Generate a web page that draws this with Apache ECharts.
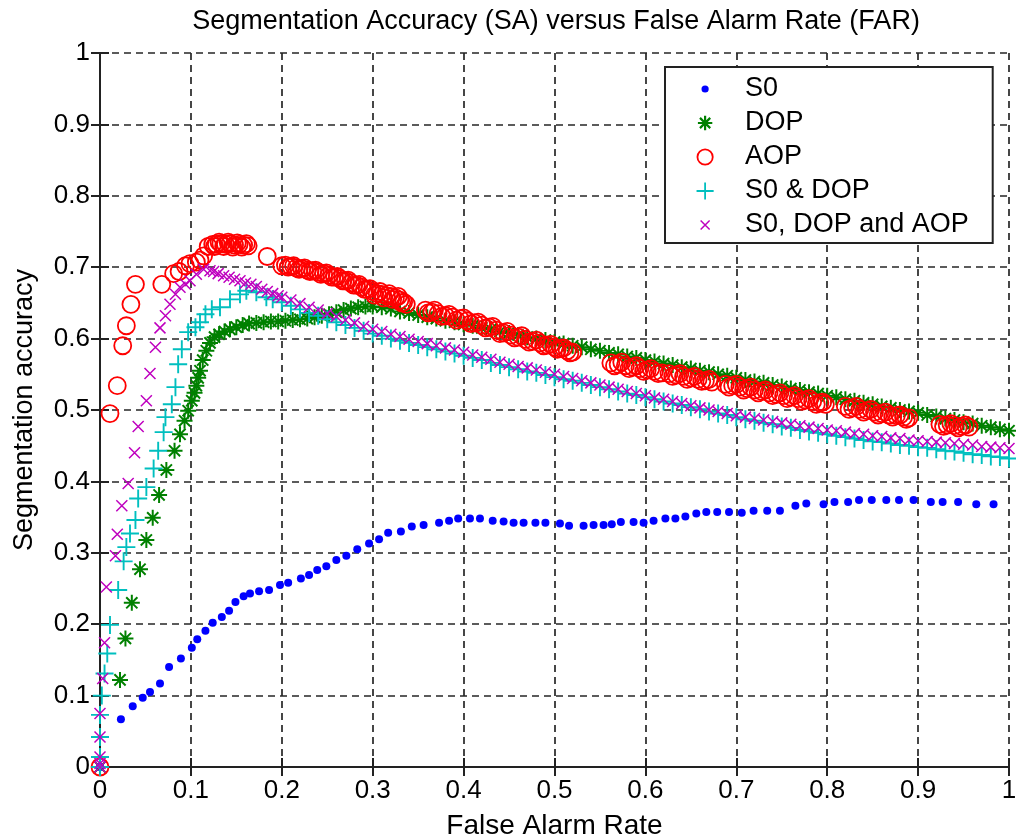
<!DOCTYPE html>
<html>
<head>
<meta charset="utf-8">
<title>Segmentation Accuracy versus False Alarm Rate</title>
<script src="https://cdn.jsdelivr.net/npm/echarts@6/dist/echarts.min.js"></script>
<style>
  html, body { margin: 0; padding: 0; background: #ffffff; }
  #chart { width: 1016px; height: 840px; }
</style>
</head>
<body>
<div id="chart"></div>
<script>
// [false alarm rate, segmentation accuracy] pairs for each feature set
const s0Points = [
  [0,0],[0.023,0.067],[0.036,0.085],[0.047,0.097],[0.055,0.105],[0.066,0.117],[0.076,0.140],[0.089,0.152],
  [0.101,0.167],[0.107,0.179],[0.116,0.191],[0.124,0.202],[0.134,0.210],[0.142,0.219],[0.149,0.231],
  [0.158,0.239],[0.165,0.243],[0.175,0.246],[0.186,0.248],[0.198,0.255],[0.207,0.258],[0.221,0.264],
  [0.230,0.269],[0.239,0.276],[0.249,0.281],[0.260,0.290],[0.271,0.296],[0.283,0.305],[0.296,0.313],
  [0.307,0.319],[0.317,0.328],[0.331,0.330],[0.343,0.337],[0.356,0.339],[0.373,0.342],[0.384,0.345],
  [0.394,0.348],[0.407,0.348],[0.418,0.348],[0.432,0.345],[0.444,0.344],[0.455,0.342],[0.466,0.342],
  [0.479,0.342],[0.490,0.342],[0.506,0.341],[0.516,0.338],[0.532,0.338],[0.543,0.339],[0.554,0.339],
  [0.563,0.340],[0.573,0.343],[0.587,0.343],[0.598,0.342],[0.609,0.345],[0.622,0.348],[0.633,0.348],
  [0.644,0.351],[0.656,0.355],[0.667,0.357],[0.679,0.357],[0.692,0.357],[0.706,0.356],[0.719,0.359],
  [0.734,0.359],[0.748,0.359],[0.765,0.366],[0.777,0.369],[0.796,0.368],[0.808,0.371],[0.823,0.371],
  [0.835,0.374],[0.849,0.374],[0.865,0.374],[0.879,0.374],[0.895,0.374],[0.914,0.371],[0.927,0.371],
  [0.944,0.371],[0.964,0.368],[0.983,0.368]
];

const dopPoints = [
  [0,0],[0.022,0.122],[0.028,0.180],[0.035,0.230],[0.044,0.277],[0.051,0.318],[0.058,0.349],[0.065,0.381],
  [0.073,0.416],[0.082,0.443],[0.088,0.466],[0.093,0.485],[0.097,0.499],[0.101,0.513],[0.104,0.524],
  [0.106,0.534],[0.108,0.545],[0.110,0.555],[0.113,0.570],[0.117,0.583],[0.121,0.594],[0.126,0.602],
  [0.131,0.606],[0.137,0.610],[0.143,0.613],[0.150,0.616],[0.157,0.619],[0.164,0.621],[0.172,0.622],
  [0.180,0.623],[0.188,0.624],[0.196,0.624],[0.204,0.625],[0.212,0.626],[0.220,0.627],[0.228,0.628],
  [0.236,0.630],[0.244,0.632],[0.252,0.634],[0.260,0.637],[0.268,0.640],[0.276,0.642],[0.284,0.644],
  [0.292,0.645],[0.300,0.645],[0.310,0.644],[0.320,0.642],[0.330,0.638],[0.340,0.636],[0.350,0.633],
  [0.360,0.630],[0.370,0.628],[0.380,0.625],[0.390,0.623],[0.400,0.620],[0.410,0.618],[0.420,0.615],
  [0.430,0.613],[0.440,0.610],[0.450,0.608],[0.460,0.605],[0.470,0.602],[0.480,0.600],[0.490,0.598],
  [0.500,0.595],[0.510,0.593],[0.520,0.590],[0.530,0.588],[0.540,0.585],[0.550,0.583],[0.560,0.580],
  [0.570,0.578],[0.580,0.575],[0.590,0.573],[0.600,0.570],[0.610,0.568],[0.620,0.565],[0.630,0.563],
  [0.640,0.560],[0.650,0.558],[0.660,0.555],[0.670,0.553],[0.680,0.550],[0.690,0.548],[0.700,0.545],
  [0.710,0.542],[0.720,0.540],[0.730,0.538],[0.740,0.535],[0.750,0.533],[0.760,0.530],[0.770,0.528],
  [0.780,0.525],[0.790,0.523],[0.800,0.520],[0.810,0.518],[0.820,0.515],[0.830,0.513],[0.840,0.510],
  [0.850,0.508],[0.860,0.505],[0.870,0.503],[0.880,0.500],[0.890,0.498],[0.900,0.496],[0.910,0.493],
  [0.920,0.491],[0.930,0.488],[0.940,0.486],[0.950,0.483],[0.960,0.481],[0.970,0.478],[0.980,0.476],
  [0.990,0.473],[1.000,0.471]
];

const aopPoints = [
  [0,0],[0.011,0.495],[0.019,0.534],[0.025,0.590],[0.029,0.618],[0.034,0.648],[0.039,0.676],[0.068,0.676],
  [0.081,0.691],[0.087,0.694],[0.094,0.702],[0.099,0.705],[0.106,0.707],[0.110,0.710],[0.114,0.716],
  [0.119,0.729],[0.124,0.732],[0.126,0.729],[0.128,0.732],[0.131,0.735],[0.133,0.733],[0.136,0.729],
  [0.138,0.732],[0.141,0.735],[0.143,0.733],[0.146,0.728],[0.148,0.731],[0.151,0.734],[0.153,0.732],
  [0.156,0.728],[0.158,0.731],[0.161,0.733],[0.163,0.730],[0.184,0.715],[0.200,0.702],
  [0.204,0.703],[0.207,0.700],[0.210,0.701],[0.213,0.702],[0.216,0.699],[0.219,0.697],[0.222,0.698],
  [0.225,0.699],[0.228,0.696],[0.231,0.694],[0.234,0.695],[0.237,0.696],[0.240,0.693],[0.243,0.690],
  [0.246,0.691],[0.249,0.692],[0.252,0.689],[0.255,0.686],[0.258,0.686],[0.261,0.687],[0.264,0.684],
  [0.267,0.681],[0.270,0.681],[0.273,0.682],[0.276,0.678],[0.279,0.675],[0.282,0.675],[0.285,0.676],
  [0.288,0.672],[0.291,0.669],[0.294,0.669],[0.297,0.670],[0.300,0.666],[0.302,0.661],[0.305,0.663],
  [0.308,0.666],[0.310,0.662],[0.312,0.657],[0.315,0.660],[0.318,0.663],[0.320,0.659],[0.322,0.655],
  [0.325,0.657],[0.328,0.659],[0.330,0.654],[0.332,0.650],[0.334,0.651],[0.337,0.648],
  [0.358,0.640],[0.361,0.636],[0.365,0.637],[0.368,0.640],[0.372,0.635],[0.376,0.631],[0.380,0.632],
  [0.384,0.634],[0.388,0.630],[0.392,0.626],[0.396,0.628],[0.400,0.629],[0.404,0.625],[0.408,0.621],
  [0.412,0.622],[0.416,0.623],[0.420,0.619],[0.424,0.615],[0.428,0.616],[0.432,0.617],[0.436,0.612],
  [0.440,0.607],[0.444,0.608],[0.448,0.610],[0.452,0.605],[0.456,0.601],[0.460,0.602],[0.464,0.604],
  [0.468,0.599],[0.472,0.595],[0.476,0.596],[0.480,0.598],[0.484,0.594],[0.488,0.590],[0.492,0.591],
  [0.496,0.592],[0.500,0.588],[0.503,0.585],[0.507,0.586],[0.510,0.587],[0.514,0.583],[0.517,0.580],
  [0.520,0.581],
  [0.562,0.566],[0.566,0.562],[0.570,0.564],[0.574,0.567],[0.578,0.562],[0.582,0.558],[0.586,0.560],
  [0.590,0.562],[0.594,0.558],[0.598,0.554],[0.602,0.556],[0.606,0.558],[0.610,0.554],[0.614,0.551],
  [0.618,0.552],[0.626,0.551],[0.630,0.547],[0.634,0.549],[0.638,0.551],[0.642,0.547],[0.646,0.543],
  [0.650,0.545],[0.654,0.547],[0.658,0.543],[0.662,0.540],[0.666,0.541],[0.670,0.543],[0.673,0.539],
  [0.688,0.536],[0.692,0.532],[0.696,0.534],[0.700,0.536],[0.704,0.532],[0.708,0.528],[0.712,0.530],
  [0.716,0.532],[0.720,0.528],[0.724,0.524],[0.728,0.526],[0.732,0.528],[0.736,0.524],[0.740,0.520],
  [0.744,0.522],[0.748,0.524],[0.752,0.520],[0.756,0.516],[0.760,0.518],[0.764,0.520],[0.768,0.516],
  [0.772,0.512],[0.776,0.514],[0.780,0.516],[0.784,0.512],[0.788,0.508],[0.792,0.510],[0.795,0.511],
  [0.798,0.508],
  [0.820,0.505],[0.824,0.501],[0.828,0.503],[0.832,0.505],[0.836,0.501],[0.840,0.497],[0.844,0.499],
  [0.848,0.501],[0.852,0.497],[0.856,0.493],[0.860,0.495],[0.864,0.497],[0.868,0.493],[0.872,0.490],
  [0.876,0.492],[0.880,0.493],[0.884,0.490],[0.887,0.487],[0.890,0.489],
  [0.924,0.480],[0.928,0.477],[0.932,0.479],[0.936,0.481],[0.940,0.478],[0.944,0.475],[0.948,0.477],
  [0.952,0.479],[0.956,0.476]
];

const s0DopPoints = [
  [0,0],[0,0.014],[0,0.042],[0,0.073],[0.002,0.100],[0.005,0.131],[0.008,0.159],[0.011,0.199],
  [0.020,0.248],[0.026,0.288],[0.029,0.308],[0.033,0.327],[0.039,0.346],[0.042,0.376],[0.051,0.392],
  [0.059,0.418],[0.064,0.443],[0.070,0.469],[0.072,0.490],[0.079,0.508],[0.083,0.532],[0.086,0.564],
  [0.090,0.585],[0.097,0.609],[0.105,0.616],[0.110,0.623],[0.116,0.634],[0.123,0.641],[0.132,0.644],
  [0.143,0.655],[0.154,0.662],[0.161,0.667],[0.172,0.665],[0.183,0.658],[0.190,0.655],[0.200,0.651],
  [0.210,0.646],[0.220,0.641],[0.230,0.636],[0.240,0.632],[0.250,0.627],[0.260,0.623],[0.270,0.619],
  [0.280,0.615],[0.290,0.611],[0.300,0.607],[0.310,0.604],[0.320,0.600],[0.330,0.597],[0.340,0.594],
  [0.350,0.591],[0.360,0.588],[0.370,0.585],[0.380,0.582],[0.390,0.579],[0.400,0.576],[0.410,0.573],
  [0.420,0.570],[0.430,0.566],[0.440,0.563],[0.450,0.560],[0.460,0.557],[0.470,0.554],[0.480,0.552],
  [0.490,0.549],[0.500,0.546],[0.510,0.543],[0.520,0.541],[0.530,0.538],[0.540,0.535],[0.550,0.532],
  [0.560,0.529],[0.570,0.526],[0.580,0.523],[0.590,0.521],[0.600,0.518],[0.610,0.515],[0.620,0.512],
  [0.630,0.509],[0.640,0.507],[0.650,0.504],[0.660,0.501],[0.670,0.498],[0.680,0.495],[0.690,0.493],
  [0.700,0.490],[0.710,0.487],[0.720,0.485],[0.730,0.482],[0.740,0.480],[0.750,0.477],[0.760,0.475],
  [0.770,0.472],[0.780,0.470],[0.790,0.468],[0.800,0.466],[0.810,0.464],[0.820,0.462],[0.830,0.460],
  [0.840,0.458],[0.850,0.456],[0.860,0.455],[0.870,0.453],[0.880,0.451],[0.890,0.450],[0.900,0.448],
  [0.910,0.447],[0.920,0.445],[0.930,0.443],[0.940,0.442],[0.950,0.440],[0.960,0.438],[0.970,0.437],
  [0.980,0.435],[0.990,0.434],[1.000,0.432]
];

const allFeaturePoints = [
  [0,0],[0,0.005],[0,0.014],[0,0.042],[0,0.075],[0.003,0.124],[0.005,0.174],[0.007,0.252],
  [0.017,0.296],[0.019,0.326],[0.024,0.366],[0.031,0.397],[0.038,0.440],[0.042,0.477],[0.051,0.513],
  [0.055,0.551],[0.061,0.588],[0.066,0.615],[0.072,0.632],[0.077,0.648],[0.083,0.662],[0.088,0.672],
  [0.094,0.676],[0.099,0.681],[0.106,0.690],[0.114,0.697],[0.121,0.695],[0.125,0.694],[0.130,0.691],
  [0.136,0.688],[0.142,0.686],[0.148,0.683],[0.154,0.681],[0.160,0.678],[0.166,0.676],[0.172,0.673],
  [0.178,0.669],[0.184,0.666],[0.190,0.663],[0.196,0.660],[0.200,0.658],[0.210,0.654],[0.220,0.649],
  [0.230,0.644],[0.240,0.640],[0.250,0.635],[0.260,0.631],[0.270,0.626],[0.280,0.622],[0.290,0.617],
  [0.300,0.613],[0.310,0.610],[0.320,0.606],[0.330,0.603],[0.340,0.599],[0.350,0.596],[0.360,0.593],
  [0.370,0.590],[0.380,0.587],[0.390,0.584],[0.400,0.581],[0.410,0.577],[0.420,0.574],[0.430,0.571],
  [0.440,0.567],[0.450,0.564],[0.460,0.561],[0.470,0.559],[0.480,0.556],[0.490,0.553],[0.500,0.550],
  [0.510,0.547],[0.520,0.544],[0.530,0.541],[0.540,0.538],[0.550,0.535],[0.560,0.532],[0.570,0.529],
  [0.580,0.526],[0.590,0.523],[0.600,0.520],[0.610,0.517],[0.620,0.515],[0.630,0.512],[0.640,0.509],
  [0.650,0.506],[0.660,0.503],[0.670,0.500],[0.680,0.498],[0.690,0.495],[0.700,0.492],[0.710,0.490],
  [0.720,0.488],[0.730,0.486],[0.740,0.484],[0.750,0.482],[0.760,0.480],[0.770,0.478],[0.780,0.476],
  [0.790,0.474],[0.800,0.472],[0.810,0.471],[0.820,0.469],[0.830,0.467],[0.840,0.466],[0.850,0.464],
  [0.860,0.463],[0.870,0.461],[0.880,0.460],[0.890,0.458],[0.900,0.457],[0.910,0.456],[0.920,0.455],
  [0.930,0.454],[0.940,0.453],[0.950,0.452],[0.960,0.451],[0.970,0.449],[0.980,0.448],[0.990,0.447],
  [1.000,0.446]
];

const seriesNames = ['S0', 'DOP', 'AOP', 'S0 & DOP', 'S0, DOP and AOP'];
const titleText = 'Segmentation Accuracy (SA) versus False Alarm Rate (FAR)';
const xAxisTitle = 'False Alarm Rate';
const yAxisTitle = 'Segmentation accuracy';

// Marker glyphs (stroked paths)
const ASTERISK = 'path://M10 0L10 20M0 10L20 10M3 3L17 17M3 17L17 3';
const PLUS = 'path://M10 0L10 20M0 10L20 10';
const CROSS = 'path://M0 0L20 20M0 20L20 0';
// Legend glyphs padded inside a 20x20 box so each keeps its own size
const LEG_DOT = 'path://M0 0M20 20M14 10A4 4 0 1 1 6 10A4 4 0 1 1 14 10Z';
const LEG_ASTERISK = 'path://M0 0M20 20M10 2L10 18M2 10L18 10M4.3 4.3L15.7 15.7M4.3 15.7L15.7 4.3';
const LEG_CIRCLE = 'path://M0 0M20 20M18.5 10A8.5 8.5 0 1 1 1.5 10A8.5 8.5 0 1 1 18.5 10Z';
const LEG_PLUS = 'path://M0 0M20 20M10 0.5L10 19.5M0.5 10L19.5 10';
const LEG_CROSS = 'path://M0 0M20 20M5 5L15 15M5 15L15 5';

const FONT = '"Liberation Sans", Arial, Helvetica, sans-serif';
const BLUE = '#0000ff', GREEN = '#008000', RED = '#ff0000', CYAN = '#00bfbf', MAGENTA = '#bf00bf';

const chart = echarts.init(document.getElementById('chart'), null, { renderer: 'canvas' });

const axisTextStyle = { color: '#000', fontFamily: FONT, fontSize: 26 };
const gridDash = { color: '#262626', width: 1.7, type: [7, 5] };
const frameLine = { show: true, lineStyle: { color: '#222', width: 2 } };
const innerTick = { show: true, inside: true, length: 9, lineStyle: { color: '#222', width: 2 } };

chart.setOption({
  animation: false,
  backgroundColor: '#ffffff',
  title: {
    text: titleText,
    left: 551,
    top: 3,
    textAlign: 'center',
    textStyle: { color: '#000', fontFamily: FONT, fontSize: 27, fontWeight: 'normal' }
  },
  grid: { left: 100, right: 7, top: 53, bottom: 73, containLabel: false, outerBoundsMode: 'none' },
  legend: {
    orient: 'vertical',
    left: 665,
    top: 67,
    padding: [5, 24, 1, 30],
    itemWidth: 70,
    itemHeight: 18,
    itemGap: 0,
    backgroundColor: '#ffffff',
    borderColor: '#222',
    borderWidth: 2,
    borderRadius: 0,
    selectedMode: false,
    textStyle: { color: '#000', fontFamily: FONT, fontSize: 27, lineHeight: 34 },
    data: [
      { name: seriesNames[0], icon: LEG_DOT, itemStyle: { color: BLUE, borderWidth: 0 } },
      { name: seriesNames[1], icon: LEG_ASTERISK, itemStyle: { color: GREEN, borderColor: GREEN, borderWidth: 2.2 } },
      { name: seriesNames[2], icon: LEG_CIRCLE, itemStyle: { color: 'rgba(0,0,0,0)', borderColor: RED, borderWidth: 1.8 } },
      { name: seriesNames[3], icon: LEG_PLUS, itemStyle: { color: CYAN, borderColor: CYAN, borderWidth: 1.8 } },
      { name: seriesNames[4], icon: LEG_CROSS, itemStyle: { color: MAGENTA, borderColor: MAGENTA, borderWidth: 1.5 } }
    ]
  },
  xAxis: [
    {
      type: 'value', min: 0, max: 1, interval: 0.1, position: 'bottom',
      name: xAxisTitle, nameLocation: 'middle', nameGap: 45,
      nameTextStyle: { color: '#000', fontFamily: FONT, fontSize: 28, verticalAlign: 'top' },
      axisLine: frameLine, axisTick: innerTick,
      axisLabel: Object.assign({ margin: 11 }, axisTextStyle),
      splitLine: { show: true, lineStyle: gridDash }
    },
    {
      type: 'value', min: 0, max: 1, interval: 0.1, position: 'top',
      axisLine: frameLine, axisTick: innerTick,
      axisLabel: { show: false }, splitLine: { show: false }
    }
  ],
  yAxis: [
    {
      type: 'value', min: 0, max: 1, interval: 0.1, position: 'left',
      name: yAxisTitle, nameLocation: 'middle', nameGap: 62, nameRotate: 90,
      nameTextStyle: { color: '#000', fontFamily: FONT, fontSize: 27 },
      axisLine: frameLine, axisTick: innerTick,
      axisLabel: Object.assign({ margin: 10 }, axisTextStyle),
      splitLine: { show: true, lineStyle: gridDash }
    },
    {
      type: 'value', min: 0, max: 1, interval: 0.1, position: 'right',
      axisLine: frameLine, axisTick: innerTick,
      axisLabel: { show: false }, splitLine: { show: false }
    }
  ],
  series: [
    {
      name: seriesNames[0], type: 'scatter', data: s0Points,
      symbol: 'circle', symbolSize: 8,
      itemStyle: { color: BLUE, opacity: 1 }
    },
    {
      name: seriesNames[1], type: 'scatter', data: dopPoints,
      symbol: ASTERISK, symbolSize: 16,
      itemStyle: { color: GREEN, borderColor: GREEN, borderWidth: 2, opacity: 1 }
    },
    {
      name: seriesNames[2], type: 'scatter', data: aopPoints,
      symbol: 'circle', symbolSize: 17,
      itemStyle: { color: 'rgba(0,0,0,0)', borderColor: RED, borderWidth: 1.8, opacity: 1 }
    },
    {
      name: seriesNames[3], type: 'scatter', data: s0DopPoints,
      symbol: PLUS, symbolSize: 18,
      itemStyle: { color: CYAN, borderColor: CYAN, borderWidth: 1.9, opacity: 1 }
    },
    {
      name: seriesNames[4], type: 'scatter', data: allFeaturePoints,
      symbol: CROSS, symbolSize: 11,
      itemStyle: { color: MAGENTA, borderColor: MAGENTA, borderWidth: 1.5, opacity: 1 }
    }
  ]
});
</script>
</body>
</html>
